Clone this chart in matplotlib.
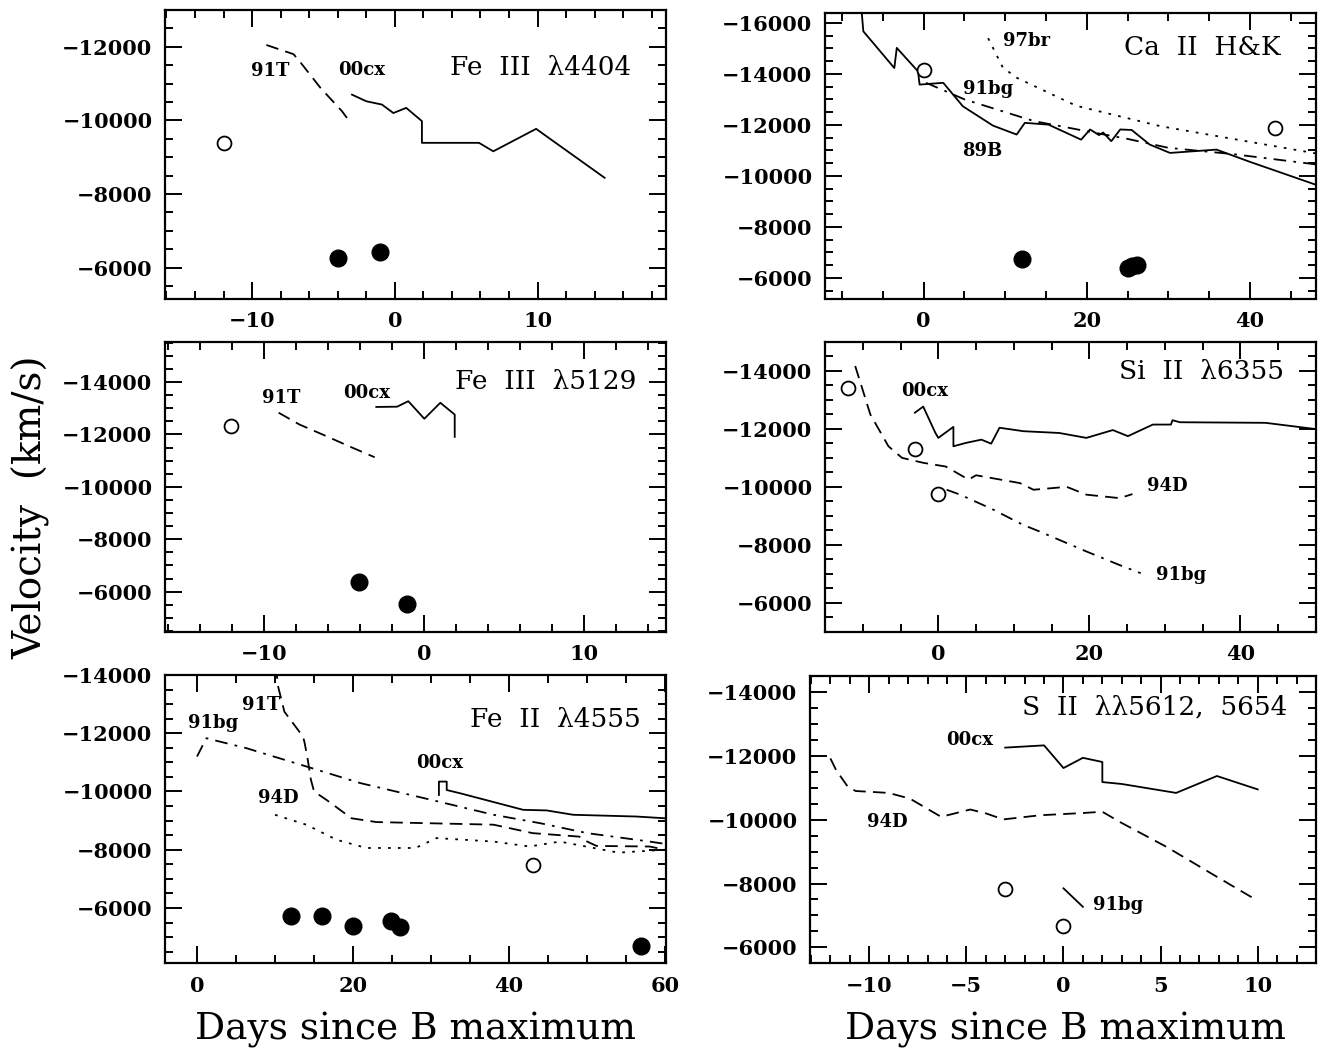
import matplotlib
matplotlib.use("Agg")
import matplotlib.pyplot as plt
from matplotlib.ticker import MultipleLocator

plt.rcParams['font.family'] = ['DejaVu Serif']

# ---------------- data: velocity (km/s) versus days since B maximum -------------
# Fe III 4404
fe3a_91t_d = [-9, -7.1, -6.8, -5.2, -3.7, -3.15]
fe3a_91t_v = [-12050, -11800, -11670, -10880, -10250, -9960]
fe3a_00cx_d = [-3.0, -2.0, -0.9, -0.1, 0.8, 1.9, 1.9, 5.9, 6.9, 9.9, 14.7]
fe3a_00cx_v = [-10700, -10520, -10430, -10200, -10340, -9980, -9390, -9390, -9160, -9770, -8440]
fe3a_open_d = [-12.0]
fe3a_open_v = [-9390]
fe3a_fill_d = [-4.0, -1.05]
fe3a_fill_v = [-6270, -6430]

# Ca II H&K
ca_89b_d = [-7.7, -7.4, -3.6, -3.3, -0.7, -0.5, 2.4, 4.8, 8.5, 11.4, 12.4, 15.3, 19.3,
            20.4, 21.5, 22.0, 23.0, 24.1, 25.5, 27.7, 30.2, 35.9, 40.0, 48.1]
ca_89b_v = [-16800, -15670, -14230, -15020, -14100, -13580, -13650, -12730, -11970, -11620,
            -12080, -12010, -11420, -11820, -11600, -11700, -11360, -11820, -11800, -11230,
            -10900, -11030, -10550, -9650]
ca_91bg_d = [0.3, 5.0, 11.0, 13.5, 20.0, 25.0, 30.0, 38.0, 48.1]
ca_91bg_v = [-13650, -13000, -12400, -12150, -11750, -11450, -11100, -10850, -10450]
ca_97br_d = [7.9, 9.7, 11.4, 16.7, 18.7, 29.0, 48.1]
ca_97br_v = [-15400, -14250, -13850, -13050, -12750, -11950, -10880]
ca_open_d = [0.0, 43.1]
ca_open_v = [-14170, -11880]
ca_fill_d = [12.0, 25.1, 25.6, 26.1]
ca_fill_v = [-6720, -6390, -6450, -6520]

# Fe III 5129
fe3b_91t_d = [-9.1, -7.8, -6.1, -4.7, -3.1]
fe3b_91t_v = [-12830, -12380, -11930, -11550, -11130]
fe3b_00cx_d = [-3.0, -1.7, -1.0, 0.0, 1.0, 1.9, 1.9]
fe3b_00cx_v = [-13050, -13060, -13270, -12600, -13210, -12760, -11910]
fe3b_open_d = [-12.1]
fe3b_open_v = [-12320]
fe3b_fill_d = [-4.1, -1.05]
fe3b_fill_v = [-6360, -5530]

# Si II 6355
si_94d_d = [-11.0, -10.1, -9.0, -6.6, -4.8, -2.0, 1.0, 4.0, 5.0, 10.8, 12.6, 17.0, 19.6, 24.0, 25.7]
si_94d_v = [-14170, -13420, -12500, -11400, -11000, -10830, -10700, -10250, -10400, -10130,
            -9900, -10000, -9730, -9610, -9750]
si_91bg_d = [1.1, 2.9, 7.3, 11.2, 13.4, 19.6, 24.0, 26.8]
si_91bg_v = [-9900, -9730, -9210, -8690, -8460, -7770, -7300, -7020]
si_00cx_d = [-3.1, -2.0, -0.4, 0.0, 2.0, 2.0, 3.7, 5.7, 7.0, 8.1, 11.3, 16.0, 19.6, 23.1,
             25.1, 28.4, 30.8, 31.0, 32.0, 43.3, 49.8]
si_00cx_v = [-12560, -12770, -11870, -11690, -12070, -11400, -11520, -11630, -11490, -12040,
             -11920, -11860, -11690, -11960, -11750, -12150, -12150, -12300, -12230, -12210, -12000]
si_open_d = [-12.0, -3.1, 0.0]
si_open_v = [-13420, -11310, -9760]

# Fe II 4555
fe2_91bg_d = [0.0, 1.2, 1.6, 6.3, 14.0, 20.9, 31.0, 38.0, 44.0, 50.0, 58.0, 60.0]
fe2_91bg_v = [-11200, -11830, -11800, -11490, -10860, -10290, -9650, -9200, -8910, -8570, -8280, -8200]
fe2_91t_d = [10.1, 10.4, 11.2, 13.6, 13.8, 14.2, 14.6, 15.0, 16.6, 19.8, 23.0, 38.0, 43.0,
             49.0, 50.0, 51.2, 58.0, 60.0]
fe2_91t_v = [-14300, -13600, -12740, -11880, -11660, -11080, -10400, -10000, -9710, -9080,
             -8950, -8860, -8570, -8450, -8280, -8130, -8110, -8000]
fe2_94d_d = [10.0, 14.0, 17.9, 21.7, 28.0, 30.7, 38.0, 42.6, 46.5, 54.0, 60.0]
fe2_94d_v = [-9200, -8860, -8340, -8060, -8060, -8400, -8280, -8110, -8280, -7900, -8000]
fe2_00cx_d = [31.0, 31.0, 32.0, 32.0, 33.7, 41.8, 44.8, 48.2, 56.3, 60.0]
fe2_00cx_v = [-9880, -10340, -10340, -10050, -9940, -9370, -9350, -9200, -9140, -9080]
fe2_open_d = [43.0]
fe2_open_v = [-7480]
fe2_fill_d = [12.0, 16.0, 20.0, 24.9, 26.0, 56.9]
fe2_fill_v = [-5730, -5730, -5390, -5540, -5330, -4710]

# S II 5612, 5654
s2_94d_d = [-12.0, -11.7, -11.1, -10.7, -9.0, -7.9, -6.3, -4.8, -4.0, -3.1, -1.2, 1.0,
            2.0, 2.9, 5.3, 7.9, 9.8]
s2_94d_v = [-11920, -11550, -11030, -10900, -10840, -10660, -10090, -10320, -10200, -10010,
            -10140, -10210, -10250, -9930, -9150, -8210, -7530]
s2_00cx_d = [-3.0, -1.0, 0.0, 1.0, 2.0, 2.0, 3.0, 5.8, 7.9, 10.0]
s2_00cx_v = [-12260, -12330, -11620, -11940, -11810, -11180, -11120, -10840, -11370, -10950]
s2_91bg_d = [0.0, 1.0]
s2_91bg_v = [-7850, -7270]
s2_open_d = [-3.0, 0.0]
s2_open_v = [-7815, -6670]

# ---------------- figure -------------------------------------------------------
W, H = 1330, 1057
fig = plt.figure(figsize=(W / 100, H / 100), dpi=100)


def make_axes(px_left, px_right, px_top, px_bottom, xlim, ylim, xmaj, xmin, ymaj, ymin):
    ax = fig.add_axes([px_left / W, 1 - px_bottom / H,
                       (px_right - px_left) / W, (px_bottom - px_top) / H])
    ax.set_xlim(*xlim)
    ax.set_ylim(*ylim)
    ax.xaxis.set_major_locator(MultipleLocator(xmaj))
    ax.xaxis.set_minor_locator(MultipleLocator(xmin))
    ax.yaxis.set_major_locator(MultipleLocator(ymaj))
    ax.yaxis.set_minor_locator(MultipleLocator(ymin))
    ax.tick_params(which='both', direction='in', top=True, right=True, width=1.4)
    ax.tick_params(which='major', length=12, labelsize=15, pad=9)
    ax.tick_params(which='minor', length=6)
    for lbl in ax.get_xticklabels() + ax.get_yticklabels():
        lbl.set_fontweight('bold')
    for sp in ax.spines.values():
        sp.set_linewidth(1.6)
    return ax


line_kw = dict(color='black', lw=1.3)
open_kw = dict(ls='none', marker='o', ms=10, mfc='white', mec='black', mew=1.3)
fill_kw = dict(ls='none', marker='o', ms=12, mfc='black', mec='black')
lab_kw = dict(fontsize=13, fontweight='bold', ha='center', va='center')
title_kw = dict(fontsize=19, ha='center', va='center')

DASH = (0, (7, 4))
DASHDOT = (0, (7, 4, 1.5, 4))
DOT = (0, (1.5, 4))

# Fe III 4404
ax1 = make_axes(165, 666, 10, 298.5, (-16.1, 19.0), (-5160, -13000), 10, 2, 2000, 500)
ax1.plot(fe3a_91t_d, fe3a_91t_v, ls=DASH, **line_kw)
ax1.plot(fe3a_00cx_d, fe3a_00cx_v, ls='-', **line_kw)
ax1.plot(fe3a_open_d, fe3a_open_v, **open_kw)
ax1.plot(fe3a_fill_d, fe3a_fill_v, **fill_kw)
ax1.text(-8.7, -11330, '91T', **lab_kw)
ax1.text(-2.3, -11380, '00cx', **lab_kw)
ax1.text(0.75, 0.80, 'Fe  III  λ4404', transform=ax1.transAxes, **title_kw)

# Ca II H&K
ax2 = make_axes(825, 1316, 12.7, 298.5, (-12.1, 48.1), (-5190, -16400), 20, 5, 2000, 500)
ax2.plot(ca_89b_d, ca_89b_v, ls='-', **line_kw)
ax2.plot(ca_91bg_d, ca_91bg_v, ls=DASHDOT, **line_kw)
ax2.plot(ca_97br_d, ca_97br_v, ls=DOT, **line_kw)
ax2.plot(ca_open_d, ca_open_v, **open_kw)
ax2.plot(ca_fill_d, ca_fill_v, **fill_kw)
ax2.text(12.6, -15280, '97br', **lab_kw)
ax2.text(7.9, -13410, '91bg', **lab_kw)
ax2.text(7.2, -10970, '89B', **lab_kw)
ax2.text(0.768, 0.877, 'Ca  II  H&K', transform=ax2.transAxes, **title_kw)

# Fe III 5129
ax3 = make_axes(165, 666, 342, 631.7, (-16.2, 15.1), (-4470, -15530), 10, 2, 2000, 500)
ax3.plot(fe3b_91t_d, fe3b_91t_v, ls=DASH, **line_kw)
ax3.plot(fe3b_00cx_d, fe3b_00cx_v, ls='-', **line_kw)
ax3.plot(fe3b_open_d, fe3b_open_v, **open_kw)
ax3.plot(fe3b_fill_d, fe3b_fill_v, **fill_kw)
ax3.text(-8.95, -13400, '91T', **lab_kw)
ax3.text(-3.6, -13590, '00cx', **lab_kw)
ax3.text(0.76, 0.862, 'Fe  III  λ5129', transform=ax3.transAxes, **title_kw)

# Si II 6355
ax4 = make_axes(825, 1316, 342, 631.7, (-15, 50), (-5000, -15000), 20, 5, 2000, 500)
ax4.plot(si_94d_d, si_94d_v, ls=DASH, **line_kw)
ax4.plot(si_91bg_d, si_91bg_v, ls=DASHDOT, **line_kw)
ax4.plot(si_00cx_d, si_00cx_v, ls='-', **line_kw)
ax4.plot(si_open_d, si_open_v, **open_kw)
ax4.text(-1.75, -13310, '00cx', **lab_kw)
ax4.text(30.3, -10020, '94D', **lab_kw)
ax4.text(32.1, -6960, '91bg', **lab_kw)
ax4.text(0.766, 0.897, 'Si  II  λ6355', transform=ax4.transAxes, **title_kw)

# Fe II 4555
ax5 = make_axes(165, 666, 675, 963.3, (-4.1, 60.1), (-4100, -14000), 20, 5, 2000, 500)
ax5.plot(fe2_91bg_d, fe2_91bg_v, ls=DASHDOT, **line_kw)
ax5.plot(fe2_91t_d, fe2_91t_v, ls=DASH, **line_kw)
ax5.plot(fe2_94d_d, fe2_94d_v, ls=DOT, **line_kw)
ax5.plot(fe2_00cx_d, fe2_00cx_v, ls='-', **line_kw)
ax5.plot(fe2_open_d, fe2_open_v, **open_kw)
ax5.plot(fe2_fill_d, fe2_fill_v, **fill_kw)
ax5.text(2.05, -12340, '91bg', **lab_kw)
ax5.text(8.25, -12970, '91T', **lab_kw)
ax5.text(10.4, -9770, '94D', **lab_kw)
ax5.text(31.1, -10970, '00cx', **lab_kw)
ax5.text(0.78, 0.847, 'Fe  II  λ4555', transform=ax5.transAxes, **title_kw)

# S II 5612, 5654
ax6 = make_axes(810, 1316, 675.5, 963.3, (-13.05, 13.0), (-5500, -14520), 5, 1, 2000, 500)
ax6.plot(s2_94d_d, s2_94d_v, ls=DASH, **line_kw)
ax6.plot(s2_00cx_d, s2_00cx_v, ls='-', **line_kw)
ax6.plot(s2_91bg_d, s2_91bg_v, ls='-', **line_kw)
ax6.plot(s2_open_d, s2_open_v, **open_kw)
ax6.text(-4.84, -12490, '00cx', **lab_kw)
ax6.text(-9.05, -9930, '94D', **lab_kw)
ax6.text(2.8, -7320, '91bg', **lab_kw)
ax6.text(0.682, 0.89, 'S  II  λλ5612,  5654', transform=ax6.transAxes, **title_kw)

# shared axis labels
fig.text(31 / W, 1 - 507 / H, 'Velocity  (km/s)', rotation=90, ha='center', va='center',
         fontsize=28)
fig.text(415 / W, 1 - 1030 / H, 'Days since B maximum', ha='center', va='center', fontsize=27)
fig.text(1065 / W, 1 - 1030 / H, 'Days since B maximum', ha='center', va='center', fontsize=27)

fig.savefig('out.png', dpi=100)
